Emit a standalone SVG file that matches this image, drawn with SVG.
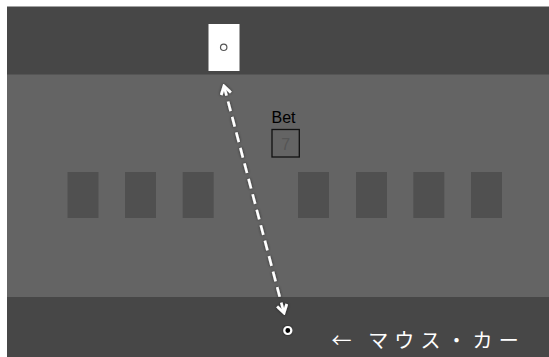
<svg xmlns="http://www.w3.org/2000/svg" width="549" height="357" viewBox="0 0 549 357">
<defs>
<style>
.band{fill:#474747}
.table{fill:#646464}
.card{fill:#505050}
.lbl{font-family:"Liberation Sans",Arial,sans-serif}
</style>
<filter id="sh" x="-20%" y="-20%" width="140%" height="140%">
<feDropShadow dx="0" dy="0" stdDeviation="1.5" flood-color="#000" flood-opacity="0.6"/>
</filter>
<marker id="ah" viewBox="0 0 12 12" refX="10" refY="6" markerWidth="12" markerHeight="12" markerUnits="userSpaceOnUse" orient="auto-start-reverse">
<path d="M2,1 L10,6 L2,11" fill="none" stroke="#fff" stroke-width="2.8" stroke-linejoin="miter"/>
</marker>
</defs>
<rect x="0" y="0" width="549" height="357" fill="#ffffff"/>
<rect x="7" y="6.5" width="542" height="350.5" class="band"/>
<rect x="7" y="74.5" width="542" height="222.5" class="table"/>
<g id="cards">
<rect class="card" x="67.5" y="172" width="31" height="46"/>
<rect class="card" x="125" y="172" width="31" height="46"/>
<rect class="card" x="182.7" y="172" width="31" height="46"/>
<rect class="card" x="298" y="172" width="31" height="46"/>
<rect class="card" x="356" y="172" width="31" height="46"/>
<rect class="card" x="413.3" y="172" width="31" height="46"/>
<rect class="card" x="471" y="172" width="31" height="46"/>
</g>
<g id="topcard">
<rect x="208.5" y="24" width="31" height="47" fill="#ffffff"/>
<circle cx="223.7" cy="47.3" r="3.2" fill="none" stroke="#555" stroke-width="1.2"/>
</g>
<g id="bet">
<text class="lbl" x="271.5" y="122.5" font-size="16" fill="#000">Bet</text>
<rect x="272" y="129.5" width="27.3" height="27.5" fill="none" stroke="#111" stroke-width="1.3"/>
<text class="lbl" x="285.7" y="149.5" font-size="16" fill="#555" text-anchor="middle">7</text>
</g>
<g id="connectors" filter="url(#sh)">
<line x1="224" y1="86" x2="284" y2="313" stroke="#fff" stroke-width="2.6" stroke-dasharray="10,6" marker-start="url(#ah)" marker-end="url(#ah)"/>
</g>
<g id="mouse">
<circle cx="287.8" cy="330.5" r="3.5" fill="#000" stroke="#fff" stroke-width="2.2" filter="url(#sh)"/>
<text x="331.5" y="348" font-size="20" letter-spacing="6.1" fill="#fff" font-family="'Noto Sans CJK JP',sans-serif">← マウス・カー</text>
</g>
</svg>
